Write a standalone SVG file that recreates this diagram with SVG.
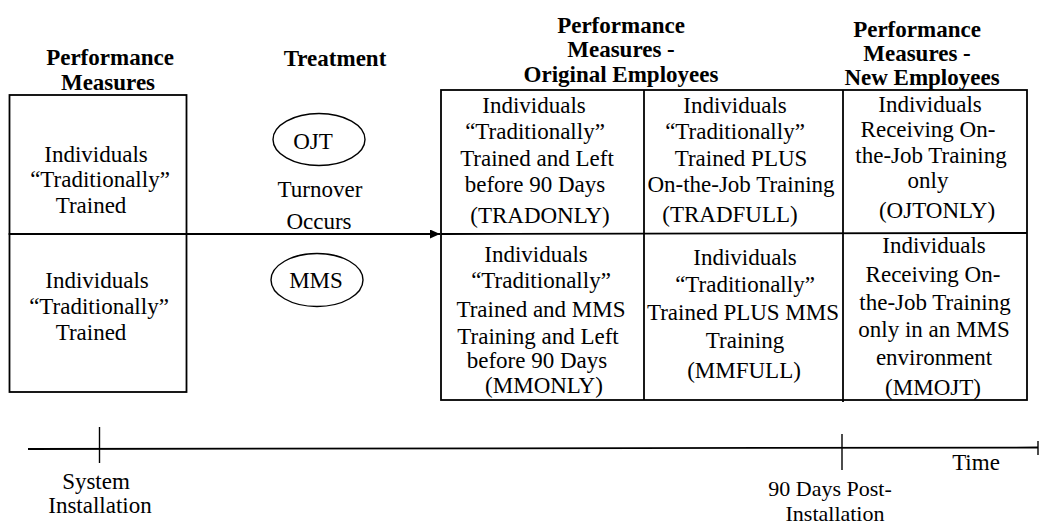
<svg xmlns="http://www.w3.org/2000/svg" width="1040" height="525" viewBox="0 0 1040 525">
<style>
  text { font-family: "Liberation Serif", "Tinos", "DejaVu Serif", "Noto Serif", serif; font-size: 23px; fill: #000; text-anchor: middle; }
  .b { font-weight: bold; }
  .sm { font-size: 22px; }
  .ln { fill: none; stroke: #000; stroke-width: 1.8; }
  .th { fill: none; stroke: #000; stroke-width: 1.4; }
</style>
<defs>
  <marker id="ah" markerUnits="userSpaceOnUse" markerWidth="11" markerHeight="10" refX="10" refY="4.5" orient="auto">
    <path d="M0,0 L10,4.5 L0,9 Z" fill="#000"/>
  </marker>
</defs>
<rect width="1040" height="525" fill="#fff"/>

<g id="headers">
  <text class="b" x="110" y="65">Performance</text>
  <text class="b" x="108" y="90">Measures</text>
  <text class="b" x="335" y="66">Treatment</text>
  <text class="b" x="621" y="33">Performance</text>
  <text class="b" x="621" y="57">Measures -</text>
  <text class="b" x="621" y="82">Original Employees</text>
  <text class="b" x="917" y="37">Performance</text>
  <text class="b" x="917" y="61">Measures -</text>
  <text class="b" x="922" y="85">New Employees</text>
</g>

<g id="left-top">
  <rect class="ln" x="9.5" y="95" width="177" height="139"/>
  <text x="96" y="162">Individuals</text>
  <text x="100" y="187">“Traditionally”</text>
  <text x="91" y="213">Trained</text>
</g>
<g id="left-bottom">
  <rect class="ln" x="9.5" y="234" width="177" height="158"/>
  <text x="97" y="288">Individuals</text>
  <text x="99" y="314">“Traditionally”</text>
  <text x="91" y="340">Trained</text>
</g>

<g id="ojt">
  <ellipse class="th" cx="319" cy="139.5" rx="46" ry="26"/>
  <text x="313" y="149">OJT</text>
</g>
<g id="turnover">
  <text x="320" y="197">Turnover</text>
  <text x="319" y="229">Occurs</text>
</g>
<g id="mms">
  <ellipse class="th" cx="317" cy="280" rx="46" ry="26.5"/>
  <text x="316" y="288">MMS</text>
</g>

<g id="grid">
  <rect class="ln" x="441" y="90" width="586" height="310"/>
  <line class="ln" x1="441" y1="234" x2="1027" y2="233"/>
  <line class="ln" x1="644" y1="90" x2="644" y2="400"/>
  <line class="ln" x1="843" y1="90" x2="843" y2="402"/>
</g>

<g id="tradonly">
  <text x="534" y="113">Individuals</text>
  <text x="535" y="139">“Traditionally”</text>
  <text x="537" y="166">Trained and Left</text>
  <text x="535" y="192">before 90 Days</text>
  <text x="540" y="223">(TRADONLY)</text>
</g>
<g id="tradfull">
  <text x="735" y="113">Individuals</text>
  <text x="735" y="139">“Traditionally”</text>
  <text x="741" y="166">Trained PLUS</text>
  <text x="741" y="192">On-the-Job Training</text>
  <text x="730" y="222">(TRADFULL)</text>
</g>
<g id="ojtonly">
  <text x="930" y="112">Individuals</text>
  <text x="928" y="137">Receiving On-</text>
  <text x="931" y="163">the-Job Training</text>
  <text x="928" y="188">only</text>
  <text x="937" y="218">(OJTONLY)</text>
</g>
<g id="mmonly">
  <text x="536" y="262">Individuals</text>
  <text x="541" y="288">“Traditionally”</text>
  <text x="541" y="317">Trained and MMS</text>
  <text x="538" y="344">Training and Left</text>
  <text x="537" y="368">before 90 Days</text>
  <text x="544" y="393">(MMONLY)</text>
</g>
<g id="mmfull">
  <text x="745" y="265">Individuals</text>
  <text x="745" y="292">“Traditionally”</text>
  <text x="743" y="320">Trained PLUS MMS</text>
  <text x="745" y="348">Training</text>
  <text x="744" y="378">(MMFULL)</text>
</g>
<g id="mmojt">
  <text x="934" y="253">Individuals</text>
  <text x="933" y="282">Receiving On-</text>
  <text x="935" y="310">the-Job Training</text>
  <text x="934" y="337">only in an MMS</text>
  <text x="934" y="365">environment</text>
  <text x="933" y="395">(MMOJT)</text>
</g>

<g id="connectors">
  <line class="ln" x1="186.5" y1="234" x2="440" y2="234" marker-end="url(#ah)"/>
</g>

<g id="timeline">
  <line class="ln" x1="28" y1="449" x2="1038" y2="447.5"/>
  <line class="th" x1="99.5" y1="427" x2="99.5" y2="463"/>
  <line class="th" x1="842" y1="434" x2="842" y2="470"/>
  <line class="th" x1="1038" y1="441" x2="1038" y2="455"/>
  <text x="96" y="489">System</text>
  <text x="100" y="513">Installation</text>
  <text class="sm" x="830" y="496">90 Days Post-</text>
  <text class="sm" x="835" y="520.5">Installation</text>
  <text x="976" y="470">Time</text>
</g>
</svg>
